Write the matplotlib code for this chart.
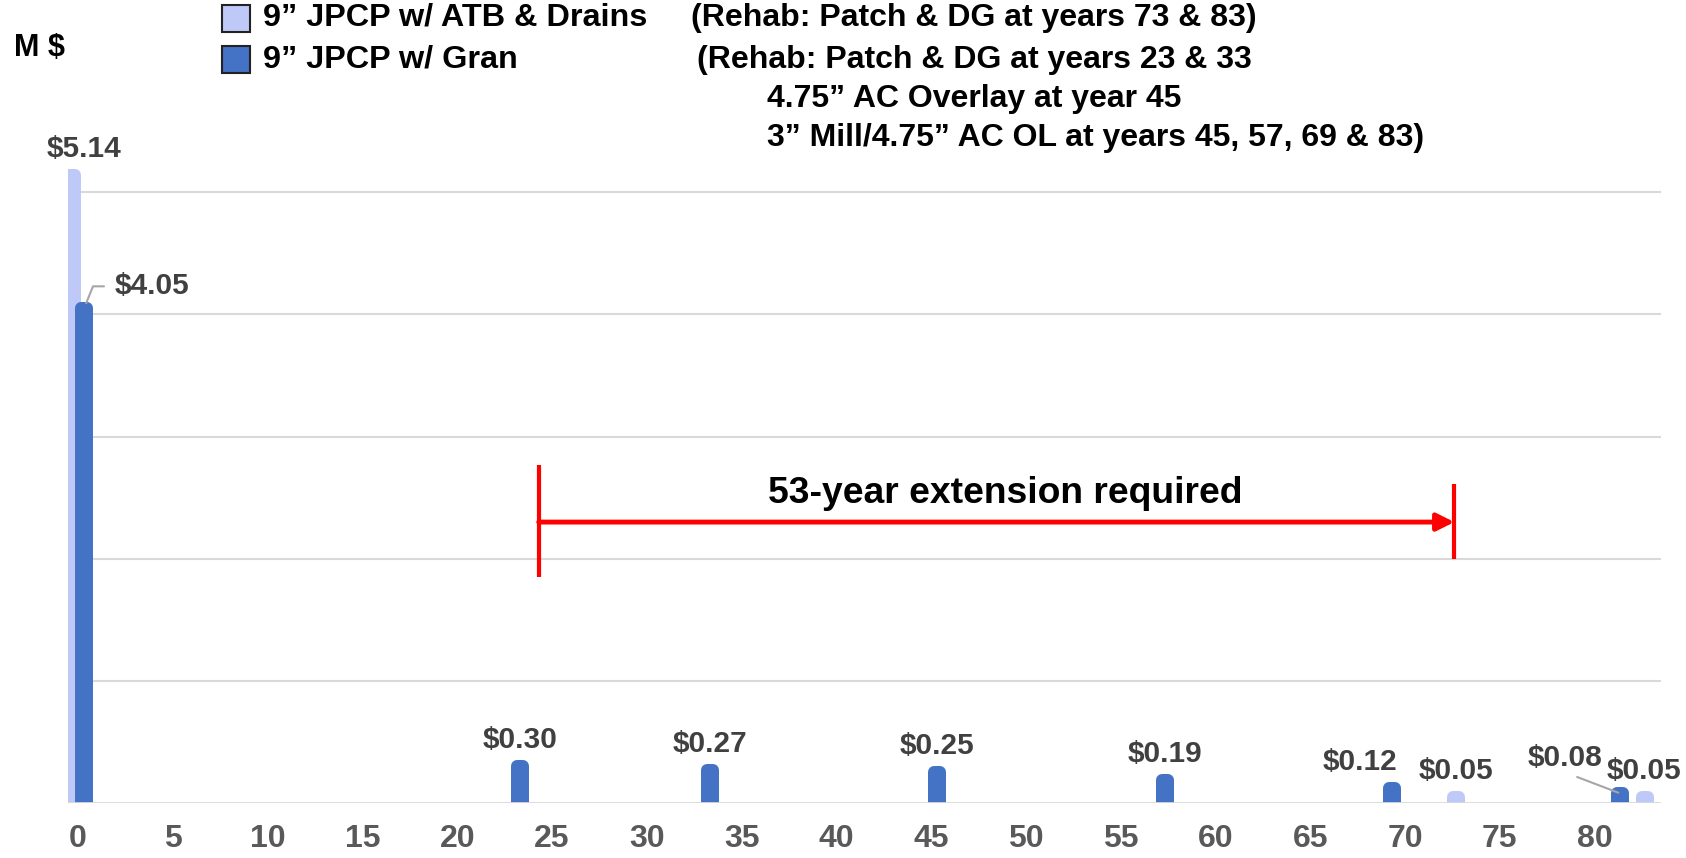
import matplotlib
matplotlib.use('Agg')
import matplotlib.pyplot as plt
from matplotlib.patches import Rectangle
import numpy as np

plt.rcParams['font.family'] = ['Liberation Sans', 'DejaVu Sans']
plt.rcParams['font.weight'] = 'bold'

# life-cycle costs, million $, by year
atb_years = [0, 73, 83]
atb_costs = [5.14, 0.05, 0.05]
gran_years = [0, 23, 33, 45, 57, 69, 81]
gran_costs = [4.05, 0.30, 0.27, 0.25, 0.19, 0.12, 0.08]
year_ticks = list(range(0, 81, 5))

legend_labels = ['9\u201d JPCP w/ ATB & Drains', '9\u201d JPCP w/ Gran']
rehab_notes = ['(Rehab: Patch & DG at years 73 & 83)',
               '(Rehab: Patch & DG at years 23 & 33',
               '4.75\u201d AC Overlay at year 45',
               '3\u201d Mill/4.75\u201d AC OL at years 45, 57, 69 & 83)']
ext_label = '53-year extension required'

LIGHT = '#BFC9F8'
DARK = '#4472C4'
W, H, DPI = 1686, 858, 100


def px(x, y):
    # pixel position (from top-left) -> figure fraction
    return x / W, 1 - y / H


fig = plt.figure(figsize=(W / DPI, H / DPI), dpi=DPI)
ax = fig.add_axes([68 / W, 1 - 803 / H, 1593 / W, 684 / H])
ax.set_xlim(-0.53, 83.5)
ax.set_ylim(0, 5.6)

# thin bars with a thick same-colour outline -> rounded caps
off, bw = 0.32, 0.32
edge = 12 * 72 / DPI
atb_x = np.array(atb_years) - off
gran_x = np.array(gran_years) + off
ax.bar(atb_x, atb_costs, bw, color=LIGHT, ec=LIGHT, lw=edge, joinstyle='round', zorder=2)
ax.bar(gran_x, gran_costs, bw, color=DARK, ec=DARK, lw=edge, joinstyle='round', zorder=2)

for s in ax.spines.values():
    s.set_visible(False)
ax.set_yticks([1, 2, 3, 4, 5])
ax.yaxis.grid(True, color='#d9d9d9', lw=1.5)
ax.set_axisbelow(True)
ax.tick_params(axis='y', length=0, labelleft=False)
ax.axhline(0, color='#d9d9d9', lw=2, zorder=3)

ax.set_xticks(year_ticks)
ax.tick_params(axis='x', length=0, pad=15, labelsize=23, labelcolor='#595959')

# value labels
lab_kw = dict(textcoords='offset pixels', ha='center', va='center',
              fontsize=21.5, color='#404040')
atb_off = [(12, 26), (0, 26), (-1, 26)]
for x, v, d in zip(atb_x, atb_costs, atb_off):
    ax.annotate('$%.2f' % v, (x, v), xytext=d, **lab_kw)

gran_off = [None, (0, 26), (0, 26), (0, 26), (0, 26), (-32, 26), (-55, 35)]
for x, v, d in zip(gran_x, gran_costs, gran_off):
    if d is None:
        continue
    if v == gran_costs[-1]:
        ax.annotate('$%.2f' % v, (x, v), xytext=d,
                    arrowprops=dict(arrowstyle='-', color='#a6a6a6', lw=1.5,
                                    relpos=(0.5, 0), shrinkA=4, shrinkB=1),
                    **lab_kw)
    else:
        ax.annotate('$%.2f' % v, (x, v), xytext=d, **lab_kw)

# leader line for the year-0 granular label
lead_kw = dict(lab_kw, ha='left')
ax.annotate('$%.2f' % gran_costs[0], (gran_x[0], gran_costs[0]), xytext=(31, 22),
            arrowprops=dict(arrowstyle='-', color='#a6a6a6', lw=1.5,
                            connectionstyle='angle,angleA=0,angleB=68,rad=0',
                            relpos=(0, 0.5), shrinkA=6, shrinkB=-4),
            **lead_kw)

# extension bracket
ax.plot([24.3, 24.3], [1.85, 2.77], color='red', lw=3, solid_capstyle='butt')
ax.plot([72.6, 72.6], [2.0, 2.61], color='red', lw=3, solid_capstyle='butt')
ax.annotate('', xy=(72.6, 2.30), xytext=(24.3, 2.30),
            arrowprops=dict(arrowstyle='-|>', color='red', lw=3.5,
                            mutation_scale=26, shrinkA=0, shrinkB=0))
ax.text(48.9, 2.53, ext_label, ha='center', va='center', fontsize=26.8, color='black')

# header: units, legend and rehab notes
fig.text(*px(14, 48), 'M $', fontsize=22, va='center', ha='left')
for (y0, y1, ty), c, lab in zip([(5, 32, 18), (46, 73, 60)], [LIGHT, DARK], legend_labels):
    x0, yb = px(222, y1)
    fig.add_artist(Rectangle((x0, yb), 28 / W, (y1 - y0) / H, transform=fig.transFigure,
                             fc=c, ec='#222222', lw=1.5))
    fig.text(*px(263, ty), lab, fontsize=23.3, va='center', ha='left')

for (x, y), t in zip([(691, 18), (697, 60), (767, 99), (767, 138)], rehab_notes):
    fig.text(*px(x, y), t, fontsize=23, va='center', ha='left')

fig.savefig('out.png', dpi=DPI)
